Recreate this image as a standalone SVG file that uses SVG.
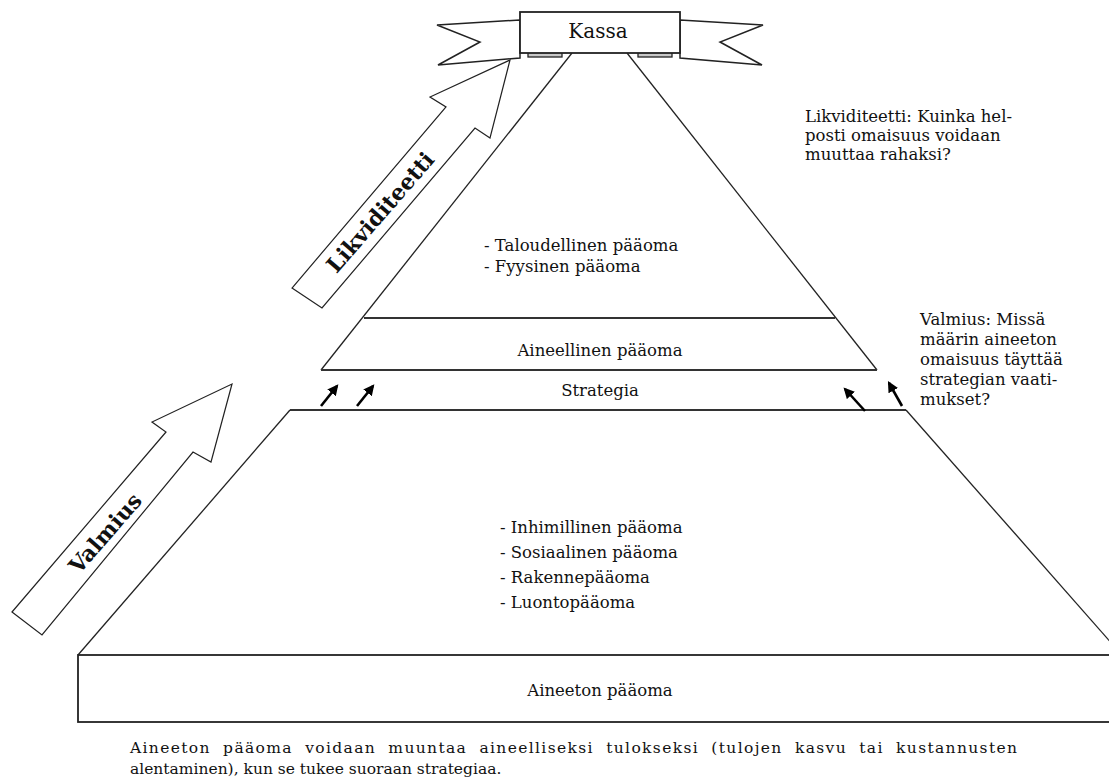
<svg xmlns="http://www.w3.org/2000/svg" width="1109" height="782" viewBox="0 0 1109 782">
<defs>
<style>
.t{font-family:"DejaVu Serif","Liberation Serif",serif;font-size:16.5px;fill:#111}
.c{font-family:"DejaVu Serif","Liberation Serif",serif;font-size:15.5px;fill:#111}
.b{font-family:"DejaVu Serif","Liberation Serif",serif;font-size:22px;font-weight:bold;fill:#111}
.ln{stroke:#222;stroke-width:1.3;fill:none}
.hl{stroke:#333;stroke-width:2;fill:none}
.big{fill:#fff;stroke:#222;stroke-width:1.2}
.sa{stroke:#000;stroke-width:2.6;fill:none;marker-end:url(#ah)}
</style>
<marker id="ah" viewBox="0 0 10 10" refX="8" refY="5" markerWidth="4.2" markerHeight="4.2" orient="auto" markerUnits="strokeWidth">
<path d="M0,0 L10,5 L0,10 z" fill="#000"/>
</marker>
</defs>
<rect width="1109" height="782" fill="#fff"/>

<g id="connectors">
<line class="ln" x1="572" y1="53" x2="321" y2="370"/>
<line class="ln" x1="627" y1="53" x2="877" y2="370"/>
<line class="hl" x1="364" y1="318" x2="835" y2="318"/>
<line class="hl" x1="321" y1="370" x2="877" y2="370"/>
<line class="hl" x1="290" y1="410" x2="906" y2="410"/>
<line class="ln" x1="290" y1="410" x2="78" y2="655"/>
<line class="ln" x1="906" y1="410" x2="1121" y2="654"/>
<line class="sa" x1="321" y1="406" x2="337" y2="386"/>
<line class="sa" x1="357" y1="406" x2="373" y2="386"/>
<line class="sa" x1="865" y1="411" x2="845" y2="389"/>
<line class="sa" x1="902" y1="406" x2="889" y2="383"/>
</g>

<g id="arrow-likviditeetti">
<polygon class="big" points="292,288 322,308 475,128 490,138 510,60 430,97 446,107"/>
<text class="b" transform="translate(380,212) rotate(-49)" text-anchor="middle" dominant-baseline="central">Likviditeetti</text>
</g>

<g id="arrow-valmius">
<polygon class="big" points="12,612 42,635 193,452 211,462 232,384 152,422 166,432"/>
<text class="b" transform="translate(105,533) rotate(-49)" text-anchor="middle" dominant-baseline="central">Valmius</text>
</g>

<g id="kassa">
<polygon points="520,20 437,25 480,42 438,65 520,58" fill="#fff" stroke="#222" stroke-width="1.5"/>
<polygon points="680,20 763,25 720,42 762,65 680,58" fill="#fff" stroke="#222" stroke-width="1.5"/>
<rect x="528" y="51" width="34" height="6" fill="#c8c8c8" stroke="#222" stroke-width="1.3"/>
<rect x="638" y="51" width="34" height="6" fill="#c8c8c8" stroke="#222" stroke-width="1.3"/>
<rect x="520" y="12" width="160" height="41" fill="#fff" stroke="#222" stroke-width="1.8"/>
<text class="t" x="598" y="38" text-anchor="middle" style="font-size:20px">Kassa</text>
</g>

<g id="top-capital">
<text class="t" x="484" y="251">- Taloudellinen pääoma</text>
<text class="t" x="484" y="272">- Fyysinen pääoma</text>
</g>

<g id="aineellinen">
<text class="t" x="600" y="356" text-anchor="middle">Aineellinen pääoma</text>
</g>

<g id="strategia">
<text class="t" x="600" y="396" text-anchor="middle">Strategia</text>
</g>

<g id="lower-capital">
<text class="t" x="500" y="533">- Inhimillinen pääoma</text>
<text class="t" x="500" y="558">- Sosiaalinen pääoma</text>
<text class="t" x="500" y="583">- Rakennepääoma</text>
<text class="t" x="500" y="608">- Luontopääoma</text>
</g>

<g id="aineeton">
<rect x="78" y="655" width="1045" height="67" fill="none" stroke="#222" stroke-width="1.8"/>
<text class="t" x="600" y="696" text-anchor="middle">Aineeton pääoma</text>
</g>

<g id="note-likviditeetti">
<text class="t" x="805" y="122">Likviditeetti: Kuinka hel-</text>
<text class="t" x="805" y="141">posti omaisuus voidaan</text>
<text class="t" x="805" y="160">muuttaa rahaksi?</text>
</g>

<g id="note-valmius">
<text class="t" x="920" y="325">Valmius: Missä</text>
<text class="t" x="920" y="345">määrin aineeton</text>
<text class="t" x="920" y="365">omaisuus täyttää</text>
<text class="t" x="920" y="385">strategian vaati-</text>
<text class="t" x="920" y="405">mukset?</text>
</g>

<g id="caption">
<text class="c" x="130" y="753" textLength="887" lengthAdjust="spacing" style="word-spacing:6px">Aineeton pääoma voidaan muuntaa aineelliseksi tulokseksi (tulojen kasvu tai kustannusten</text>
<text class="c" x="130" y="774">alentaminen), kun se tukee suoraan strategiaa.</text>
</g>
</svg>
